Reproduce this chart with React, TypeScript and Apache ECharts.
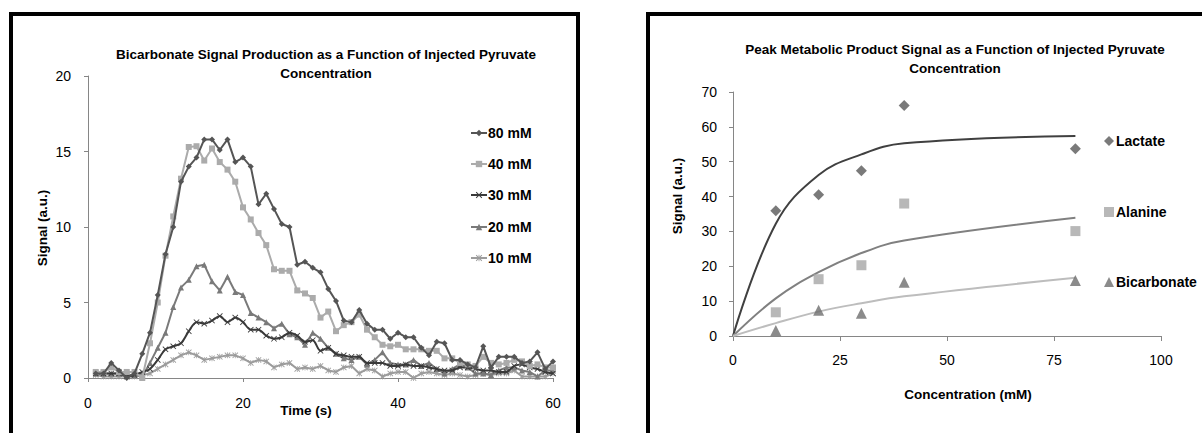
import React, { useEffect, useRef } from 'react';
import * as echarts from 'echarts';

// ---------- Left chart: bicarbonate signal vs time ----------
const timeS = [1,2,3,4,5,6,7,8,9,10,11,12,13,14,15,16,17,18,19,20,21,22,23,24,25,26,27,28,29,30,31,32,33,34,35,36,37,38,39,40,41,42,43,44,45,46,47,48,49,50,51,52,53,54,55,56,57,58,59,60];
const s80 = [0.3,0.3,1.0,0.5,0.0,0.3,1.6,3.0,5.5,8.2, 10.0,13.0,14.0,14.6,15.8,15.8,15.1,15.8,14.3,14.6, 14.0,11.5,12.2,11.2,10.2,10.0,7.5,7.7,7.3,7.0, 5.9,5.1,3.8,3.7,4.5,3.6,3.2,3.2,2.6,3.0, 2.7,2.7,2.0,1.5,2.4,2.3,1.2,1.2,0.9,0.7, 2.1,0.7,1.4,1.4,1.4,1.0,1.1,1.7,0.6,1.1];
const s40 = [0.4,0.4,0.7,0.4,0.4,0.4,0.0,2.3,5.0,8.1, 10.7,13.2,15.3,15.35,14.4,15.2,14.3,13.8,13.0,11.3, 10.5,9.6,8.8,7.2,7.1,7.1,5.8,5.6,5.3,4.0, 4.4,3.1,3.5,3.7,4.2,3.2,2.7,2.2,2.1,2.2, 1.9,1.9,1.9,1.8,1.8,1.3,1.3,1.0,0.9,0.8, 1.4,1.0,0.9,1.0,1.2,1.1,0.8,0.9,0.7,0.7];
const s30 = [0.3,0.3,0.3,0.3,0.1,0.2,0.4,0.6,1.2,1.9, 2.1,2.3,3.1,3.7,3.6,3.8,4.1,3.7,4.0,3.7, 3.2,3.2,2.8,2.6,2.7,3.0,2.8,2.4,2.5,1.8, 2.0,1.6,1.5,1.4,1.4,1.0,1.0,1.0,0.8,0.8, 0.9,0.8,0.8,0.7,0.6,0.5,0.5,0.7,0.7,0.6, 0.5,0.5,0.4,0.4,0.8,0.9,0.7,0.6,0.4,0.3];
const s20 = [0.3,0.3,0.3,0.3,0.2,0.2,0.1,1.0,2.0,3.0, 4.7,6.0,6.5,7.4,7.5,6.4,5.8,6.7,5.7,5.5, 4.3,4.0,3.7,3.3,3.6,2.9,2.7,2.2,3.0,2.6, 2.0,1.6,1.3,1.2,1.4,0.9,1.2,1.7,1.0,0.9, 0.9,1.2,0.8,1.0,0.6,0.3,0.6,0.9,0.7,0.3, 0.3,0.2,0.5,0.7,0.7,0.5,0.4,0.1,0.5,0.5];
const s10 = [0.2,0.1,0.1,0.1,0.1,0.1,0.2,0.3,0.6,0.9, 1.2,1.5,1.7,1.5,1.2,1.3,1.4,1.5,1.5,1.3, 1.0,1.2,1.1,0.7,0.9,1.0,0.6,0.7,0.6,0.8, 0.5,0.4,0.7,0.8,0.3,0.6,0.5,0.1,0.3,0.4, 0.4,0.0,0.3,0.4,0.3,0.2,0.3,0.2,0.1,0.2, 0.3,0.2,0.3,0.3,0.5,0.1,0.1,0.1,0.1,0.3];
const leftSeriesNames = ['80 mM', '40 mM', '30 mM', '20 mM', '10 mM'];

// ---------- Right chart: peak signal vs concentration ----------
const concX = [10, 20, 30, 40, 80];
const lactate = [35.9, 40.5, 47.4, 66.1, 53.7];
const alanine = [6.8, 16.3, 20.3, 38.0, 30.1];
const bicarbonate = [1.6, 7.4, 6.5, 15.4, 15.9];
const fitX = [0, 10, 20, 30, 40, 80];
const lactateFit = [0, 32.2, 46.2, 52.1, 55.3, 57.4];
const alanineFit = [0, 10.8, 18.3, 23.8, 27.4, 33.9];
const bicarbonateFit = [0, 3.7, 7.0, 9.4, 11.4, 16.7];
const rightSeriesNames = ['Lactate', 'Alanine', 'Bicarbonate'];

const FONT = "'Liberation Sans', Arial, sans-serif";
const X_SYMBOL = 'path://M0,1L1,0L5,4L9,0L10,1L6,5L10,9L9,10L5,6L1,10L0,9L4,5Z';
const STAR_SYMBOL = 'path://M0,1L1,0L5,4L9,0L10,1L6,5L10,9L9,10L5,6L1,10L0,9L4,5Z M4.4,0L5.6,0L5.6,10L4.4,10Z';

const pair = (xs: number[], ys: number[]) => xs.map((x, i) => [x, ys[i]]);

export default function App() {
  const ref = useRef<HTMLDivElement>(null);
  useEffect(() => {
    if (!ref.current) return;
    const chart = echarts.init(ref.current, undefined, { renderer: 'svg' });
    const axisGray = '#868686';
    const tickLabel = { color: '#000', fontSize: 14, fontFamily: FONT };
    const leftCols = ['#555555', '#ababab', '#3a3a3a', '#7a7a7a', '#9c9c9c'];
    const leftSyms = ['diamond', 'rect', X_SYMBOL, 'triangle', STAR_SYMBOL];
    const leftSizes = [6, 6, 6, 6, 6];
    const leftData = [s80, s40, s30, s20, s10];
    const legendY = [133, 164, 195, 227, 258];

    const leftSeries = leftData.map((d, i) => ({
      type: 'line',
      name: leftSeriesNames[i],
      xAxisIndex: 0,
      yAxisIndex: 0,
      data: pair(timeS, d),
      symbol: leftSyms[i],
      symbolSize: leftSizes[i],
      showSymbol: true,
      smooth: i === 2 ? 0.3 : false,
      lineStyle: { color: leftCols[i], width: 2 },
      itemStyle: { color: leftCols[i] },
      z: 10 - i,
    }));

    const rightCols = ['#595959', '#a6a6a6', '#6e6e6e'];
    const rightSyms = ['diamond', 'rect', 'triangle'];
    const rightData = [lactate, alanine, bicarbonate];
    const rightFits = [lactateFit, alanineFit, bicarbonateFit];
    const fitCols = ['#404040', '#808080', '#bdbdbd'];
    const rightLegendY = [141, 212, 282];

    const rightScatter = rightData.map((d, i) => ({
      type: 'scatter',
      name: rightSeriesNames[i],
      xAxisIndex: 1,
      yAxisIndex: 1,
      data: pair(concX, d),
      symbol: rightSyms[i],
      symbolSize: i === 1 ? 10 : 11,
      itemStyle: { color: rightCols[i] },
      z: 5,
    }));
    const rightFitSeries = rightFits.map((d, i) => ({
      type: 'line',
      name: rightSeriesNames[i] + ' fit',
      xAxisIndex: 1,
      yAxisIndex: 1,
      data: pair(fitX, d),
      showSymbol: false,
      symbol: 'none',
      smooth: 0.4,
      lineStyle: { color: fitCols[i], width: 2 },
      z: 3,
    }));

    const legends: any[] = [];
    leftSeriesNames.forEach((n, i) => {
      legends.push({
        data: [n],
        left: 470,
        top: legendY[i] - 8,
        padding: 0,
        itemWidth: 16,
        itemHeight: 8,
        selectedMode: false,
        textStyle: { color: '#000', fontSize: 14, fontWeight: 'bold', fontFamily: FONT, padding: [0, 0, 0, -4], lineHeight: 16 },
      });
    });
    rightSeriesNames.forEach((n, i) => {
      legends.push({
        data: [n],
        left: 1104,
        top: rightLegendY[i] - 8,
        padding: 0,
        itemWidth: 10,
        itemHeight: 10,
        selectedMode: false,
        textStyle: { color: '#000', fontSize: 14, fontWeight: 'bold', fontFamily: FONT, padding: [0, 0, 0, -3], lineHeight: 16 },
      });
    });

    const titleStyle = { color: '#000', fontSize: 13.5, fontWeight: 'bold', fontFamily: FONT, lineHeight: 19 };
    const axisNameFont = `bold 13.5px ${FONT}`;

    chart.setOption({
      animation: false,
      backgroundColor: '#fff',
      title: [
        { text: 'Bicarbonate Signal Production as a Function of Injected Pyruvate\nConcentration', left: 326, top: 45, textAlign: 'center', padding: 0, textStyle: titleStyle },
        { text: 'Peak Metabolic Product Signal as a Function of Injected Pyruvate\nConcentration', left: 955, top: 40, textAlign: 'center', padding: 0, textStyle: titleStyle },
      ],
      legend: legends,
      grid: [
        { left: 88, top: 76, width: 465, height: 302 },
        { left: 733, top: 92, width: 428, height: 244 },
      ],
      xAxis: [
        { gridIndex: 0, type: 'value', min: 0, max: 60, interval: 20,
          axisLine: { lineStyle: { color: axisGray } }, axisTick: { show: true, length: 4, lineStyle: { color: axisGray } },
          splitLine: { show: false }, axisLabel: { ...tickLabel, margin: 18 } },
        { gridIndex: 1, type: 'value', min: 0, max: 100, interval: 25,
          axisLine: { lineStyle: { color: axisGray } }, axisTick: { show: true, length: 5, lineStyle: { color: axisGray } },
          splitLine: { show: false }, axisLabel: { ...tickLabel, margin: 17 } },
      ],
      yAxis: [
        { gridIndex: 0, type: 'value', min: 0, max: 20, interval: 5,
          axisLine: { show: true, lineStyle: { color: axisGray } }, axisTick: { show: true, length: 4, lineStyle: { color: axisGray } },
          splitLine: { show: false }, axisLabel: { ...tickLabel, margin: 17 } },
        { gridIndex: 1, type: 'value', min: 0, max: 70, interval: 10,
          axisLine: { show: true, lineStyle: { color: axisGray } }, axisTick: { show: true, length: 4, lineStyle: { color: axisGray } },
          splitLine: { show: false }, axisLabel: { ...tickLabel, margin: 16 } },
      ],
      graphic: [
        { type: 'rect', shape: { x: 11, y: 14, width: 567, height: 450 }, style: { fill: 'none', stroke: '#000', lineWidth: 4 }, silent: true },
        { type: 'rect', shape: { x: 648, y: 14, width: 600, height: 450 }, style: { fill: 'none', stroke: '#000', lineWidth: 4 }, silent: true },
        { type: 'text', x: 42, y: 228, rotation: Math.PI / 2, style: { text: 'Signal (a.u.)', font: axisNameFont, fill: '#000', align: 'center', verticalAlign: 'middle' } },
        { type: 'text', x: 306, y: 410, style: { text: 'Time (s)', font: axisNameFont, fill: '#000', align: 'center', verticalAlign: 'middle' } },
        { type: 'text', x: 677, y: 196, rotation: Math.PI / 2, style: { text: 'Signal (a.u.)', font: axisNameFont, fill: '#000', align: 'center', verticalAlign: 'middle' } },
        { type: 'text', x: 968, y: 394, style: { text: 'Concentration (mM)', font: axisNameFont, fill: '#000', align: 'center', verticalAlign: 'middle' } },
      ],
      series: [...leftSeries, ...rightFitSeries, ...rightScatter],
    });
    return () => chart.dispose();
  }, []);
  return <div ref={ref} style={{ position: 'absolute', left: 0, top: 0, width: 1202, height: 433 }} />;
}
